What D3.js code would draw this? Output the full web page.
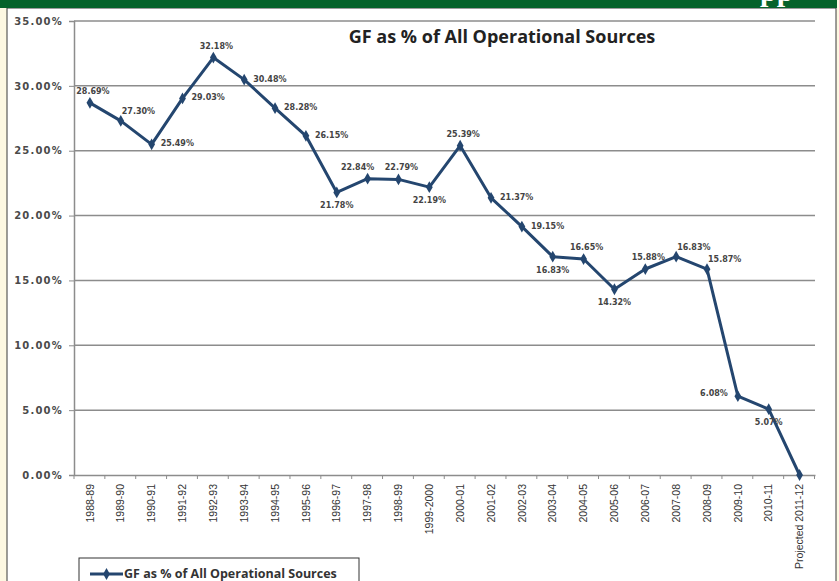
<!DOCTYPE html>
<html>
<head>
<meta charset="utf-8">
<script src="https://cdn.jsdelivr.net/npm/d3@7"></script>
<style>
  html, body { margin: 0; padding: 0; background: #fdf8e2; }
  svg { display: block; }
</style>
</head>
<body>
<div id="chart"></div>
<script>
// ------------------------------------------------------------
// Data
// ------------------------------------------------------------
var categories = ["1988-89", "1989-90", "1990-91", "1991-92", "1992-93", "1993-94",
  "1994-95", "1995-96", "1996-97", "1997-98", "1998-99", "1999-2000", "2000-01",
  "2001-02", "2002-03", "2003-04", "2004-05", "2005-06", "2006-07", "2007-08",
  "2008-09", "2009-10", "2010-11", "Projected 2011-12"];

var values = [28.69, 27.30, 25.49, 29.03, 32.18, 30.48, 28.28, 26.15, 21.78, 22.84,
  22.79, 22.19, 25.39, 21.37, 19.15, 16.83, 16.65, 14.32, 15.88, 16.83, 15.87,
  6.08, 5.07, 0];

var yTicks = [0, 5, 10, 15, 20, 25, 30, 35];

var title = "GF as % of All Operational Sources";
var seriesName = "GF as % of All Operational Sources";

// where each data label sits relative to its point (null = no label)
var labelSide = ["above", "aboveRight", "right", "right", "above", "right",
  "right", "right", "below", "aboveLeft", "above", "below", "above",
  "right", "right", "below", "above", "below", "above", "aboveRight",
  "aboveRight", "left", "below", null];

// ------------------------------------------------------------
// Layout
// ------------------------------------------------------------
var width = 839, height = 581,
    plot = { left: 74, right: 815, top: 21, bottom: 475 },
    lineColor = "#24466f";

var svg = d3.select("#chart").append("svg")
    .attr("width", width)
    .attr("height", height);

// page frame: cream margin, green banner, white chart area
svg.append("rect")
    .attr("x", 7).attr("y", 8)
    .attr("width", 829).attr("height", 580)
    .attr("fill", "#ffffff")
    .attr("stroke", "#3a3a3a")
    .attr("stroke-width", 1);

svg.append("rect")
    .attr("x", 0).attr("y", 0)
    .attr("width", 837).attr("height", 8)
    .attr("fill", "#05622a");

svg.append("clipPath").attr("id", "bandClip")
  .append("rect").attr("x", 0).attr("y", 0).attr("width", 837).attr("height", 8);

svg.append("text")
    .attr("clip-path", "url(#bandClip)")
    .attr("x", 760).attr("y", 1)
    .attr("font-family", "'Liberation Serif', serif")
    .attr("font-weight", "bold")
    .attr("font-size", 30)
    .attr("fill", "#ffffff")
    .text("pp");

// ------------------------------------------------------------
// Scales
// ------------------------------------------------------------
var x = d3.scaleBand()
    .domain(categories)
    .range([plot.left + 0.5, plot.right]);

var y = d3.scaleLinear()
    .domain([0, 35])
    .range([plot.bottom, plot.top]);

function cx(d, i) { return x(categories[i]) + x.bandwidth() / 2; }

// gridlines
svg.append("g")
  .selectAll("line")
  .data(yTicks.filter(function (t) { return t > 0; }))
  .enter().append("line")
    .attr("x1", plot.left).attr("x2", plot.right)
    .attr("y1", function (d) { return y(d); })
    .attr("y2", function (d) { return y(d); })
    .attr("stroke", "#8c8c8c")
    .attr("stroke-width", 1.5);

// y axis
var yAxis = svg.append("g")
    .attr("transform", "translate(" + plot.left + ",0)")
    .call(d3.axisLeft(y).tickValues(yTicks).tickSize(5).tickPadding(6)
      .tickFormat(function (d) { return d.toFixed(2) + "%"; }));

yAxis.select(".domain").attr("stroke", "#8c8c8c").attr("stroke-width", 1.5);
yAxis.selectAll(".tick line").attr("stroke", "#8c8c8c");
yAxis.selectAll(".tick text")
    .attr("font-family", "'DejaVu Sans', sans-serif")
    .attr("font-weight", "bold")
    .attr("font-size", 10)
    .attr("letter-spacing", 1.2)
    .attr("fill", "#4a4a4a");

// x axis
var xAxis = svg.append("g")
    .attr("transform", "translate(0," + plot.bottom + ")")
    .call(d3.axisBottom(x).tickSize(0).tickPadding(0));

xAxis.select(".domain").attr("stroke", "#8c8c8c").attr("stroke-width", 1.5);
xAxis.selectAll(".tick text")
    .attr("font-family", "'Liberation Sans', sans-serif")
    .attr("font-size", 10.5)
    .attr("fill", "#333333")
    .attr("text-anchor", "end")
    .attr("dy", "0.35em")
    .attr("transform", "translate(0,9) rotate(-90)");

// boundary tick marks below the x axis
xAxis.append("g")
  .selectAll("line")
  .data(d3.range(categories.length + 1))
  .enter().append("line")
    .attr("x1", function (i) { return plot.left + i * x.step(); })
    .attr("x2", function (i) { return plot.left + i * x.step(); })
    .attr("y1", 0).attr("y2", 4)
    .attr("stroke", "#8c8c8c");

// title
svg.append("text")
    .attr("x", 502).attr("y", 43)
    .attr("text-anchor", "middle")
    .attr("font-family", "'Open Sans', sans-serif")
    .attr("font-weight", "bold")
    .attr("font-size", 18)
    .attr("fill", "#222222")
    .text(title);

// ------------------------------------------------------------
// Series
// ------------------------------------------------------------
var line = d3.line()
    .x(cx)
    .y(function (d) { return y(d); });

svg.append("path")
    .datum(values)
    .attr("d", line)
    .attr("fill", "none")
    .attr("stroke", lineColor)
    .attr("stroke-width", 3)
    .attr("stroke-linejoin", "round");

var diamond = d3.symbol().type(d3.symbolDiamond).size(40);

svg.append("g")
  .selectAll("path")
  .data(values)
  .enter().append("path")
    .attr("d", diamond)
    .attr("transform", function (d, i) { return "translate(" + cx(d, i) + "," + y(d) + ")"; })
    .attr("fill", lineColor);

var offsets = {
  above:      { dx: 3,   dy: -9, anchor: "middle" },
  aboveLeft:  { dx: -10, dy: -9, anchor: "middle" },
  aboveRight: { dx: 1,   dy: -7, anchor: "start" },
  right:      { dx: 9,   dy: 2,  anchor: "start" },
  below:      { dx: 0,   dy: 16, anchor: "middle" },
  left:       { dx: -10, dy: 0,  anchor: "end" }
};

svg.append("g")
  .selectAll("text")
  .data(values)
  .enter().filter(function (d, i) { return labelSide[i]; })
  .append("text")
    .attr("x", function (d, i) { return cx(d, i) + offsets[labelSide[i]].dx; })
    .attr("y", function (d, i) { return y(d) + offsets[labelSide[i]].dy; })
    .attr("text-anchor", function (d, i) { return offsets[labelSide[i]].anchor; })
    .attr("font-family", "'DejaVu Sans', sans-serif")
    .attr("font-weight", "bold")
    .attr("font-size", 8)
    .attr("fill", "#444444")
    .text(function (d) { return d.toFixed(2) + "%"; });

// ------------------------------------------------------------
// Legend
// ------------------------------------------------------------
var legend = svg.append("g").attr("transform", "translate(79,558)");

legend.append("rect")
    .attr("width", 280).attr("height", 40)
    .attr("fill", "#ffffff")
    .attr("stroke", "#333333")
    .attr("stroke-width", 1);

legend.append("line")
    .attr("x1", 11).attr("x2", 44)
    .attr("y1", 16).attr("y2", 16)
    .attr("stroke", lineColor)
    .attr("stroke-width", 3);

legend.append("path")
    .attr("d", diamond)
    .attr("transform", "translate(27.5,16)")
    .attr("fill", lineColor);

legend.append("text")
    .attr("x", 45).attr("y", 20)
    .attr("font-family", "'Open Sans', sans-serif")
    .attr("font-weight", "bold")
    .attr("font-size", 12.5)
    .attr("fill", "#333333")
    .text(seriesName);
</script>
</body>
</html>
